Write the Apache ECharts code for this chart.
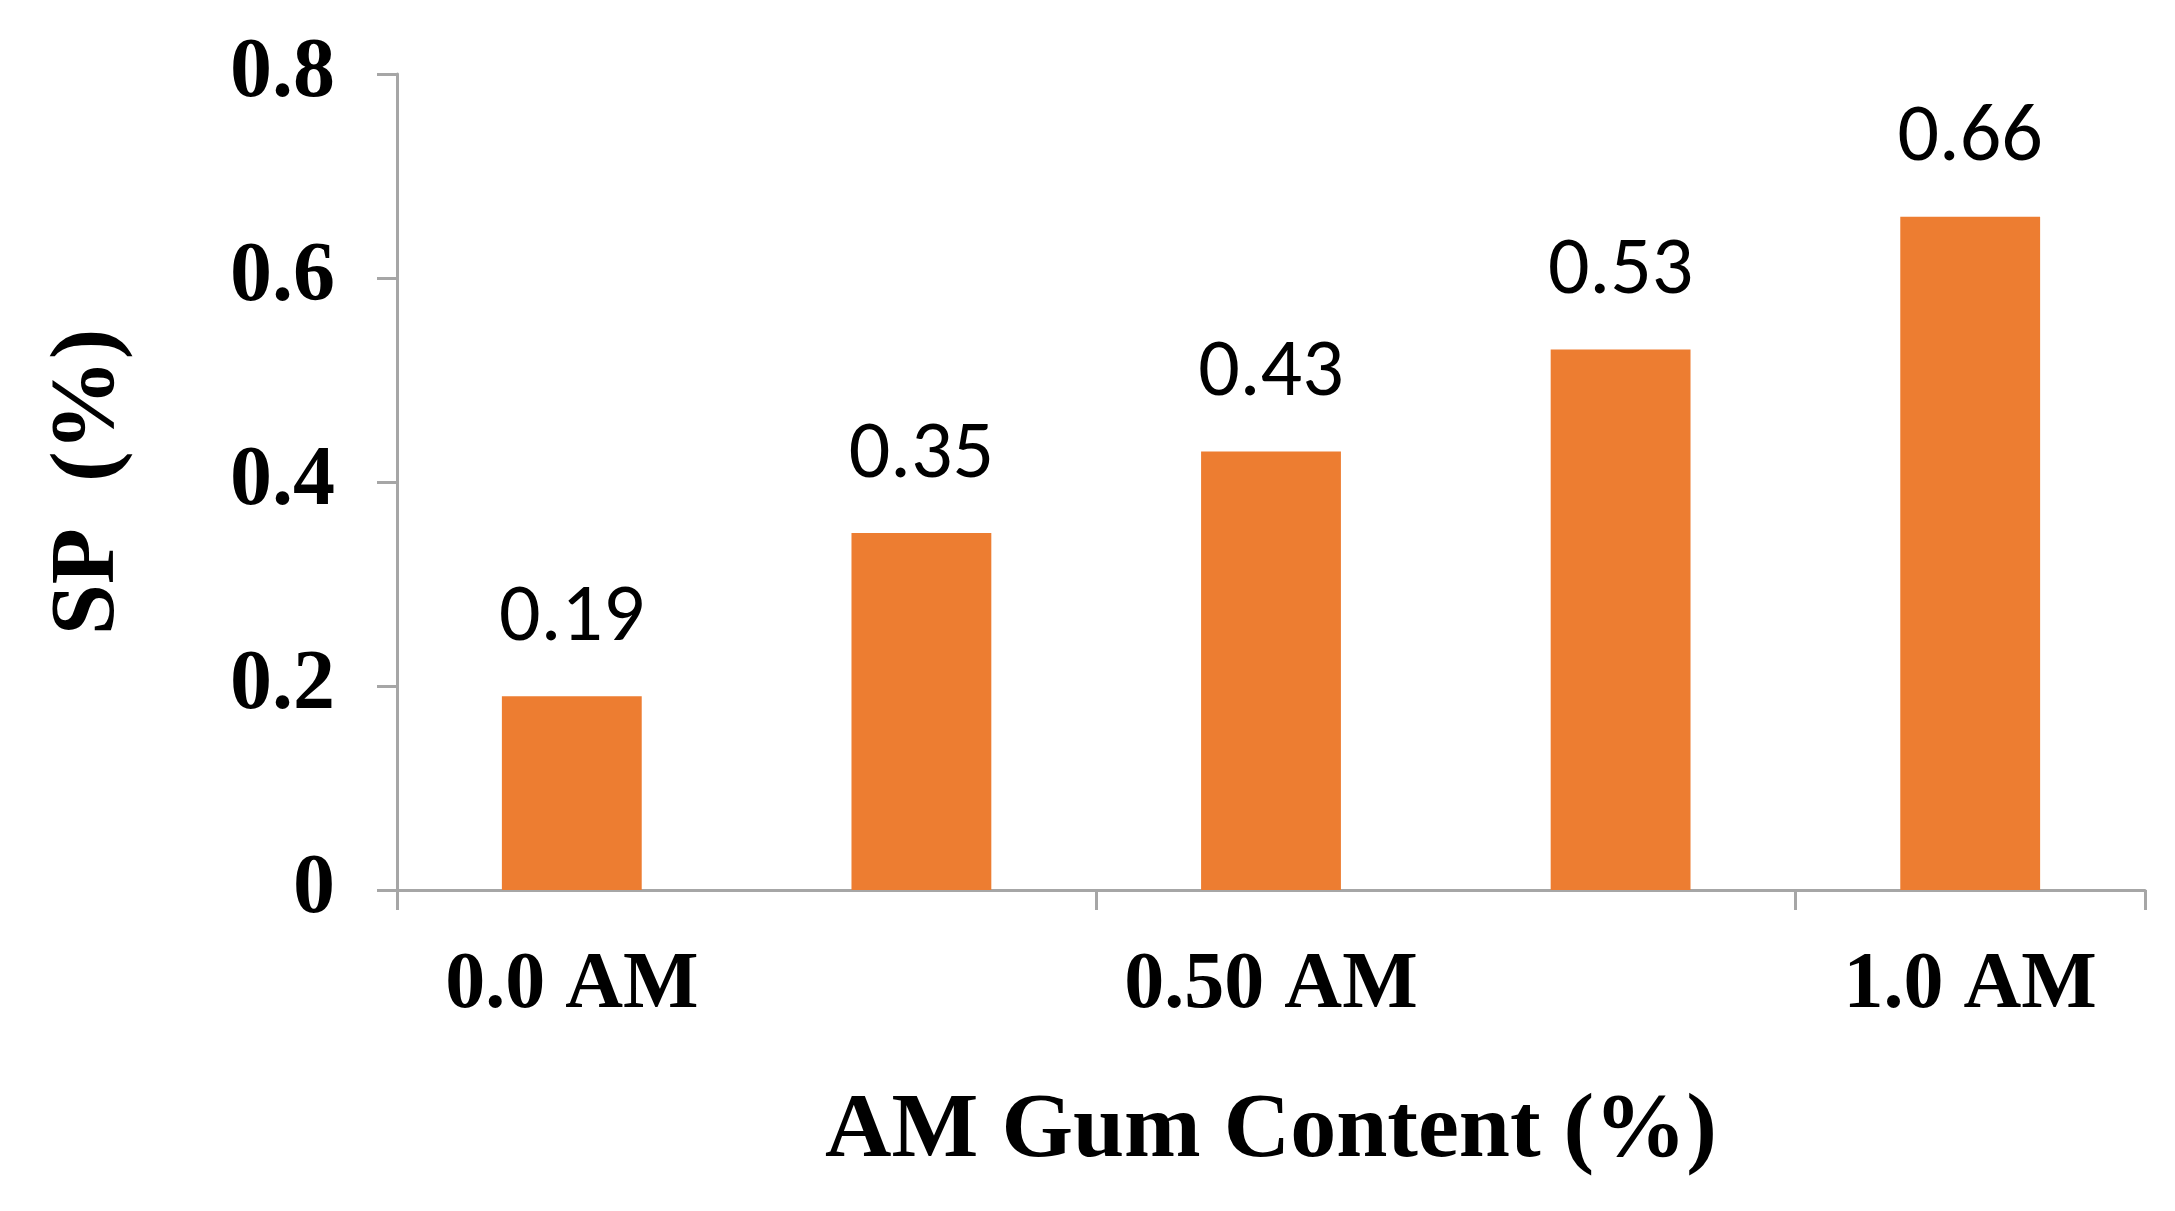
<!DOCTYPE html>
<html><head><meta charset="utf-8">
<script src="https://cdn.jsdelivr.net/npm/echarts@6/dist/echarts.min.js"></script>
<style>html,body{margin:0;padding:0;background:#fff}#c{width:2175px;height:1211px}</style>
</head><body><div id="c"></div>
<script>
const categories = ['0.0 AM','0.25 AM','0.50 AM','0.75 AM','1.0 AM'];
const spValues = [0.19,0.35,0.43,0.53,0.66];
const yTicks = [0,0.2,0.4,0.6,0.8];
const serif = '"Liberation Serif","Times New Roman",serif';
const chart = echarts.init(document.getElementById('c'));
chart.setOption({
  animation:false,
  grid:{left:397,right:30,top:74,bottom:321},
  xAxis:{type:'category',data:categories,
    name:'AM Gum Content (%)',nameLocation:'middle',nameGap:196,
    nameTextStyle:{fontFamily:serif,fontWeight:'bold',fontSize:92,color:'#000'},
    axisLine:{lineStyle:{color:'#A6A6A6',width:3}},
    axisTick:{show:true,length:20,lineStyle:{color:'#A6A6A6',width:3}},
    axisLabel:{margin:56,fontFamily:serif,fontWeight:'bold',fontSize:80,color:'#000'}},
  yAxis:{type:'value',min:0,max:0.8,interval:0.2,
    name:'SP  (%)',nameLocation:'middle',nameGap:262,
    nameTextStyle:{fontFamily:serif,fontWeight:'bold',fontSize:92,color:'#000'},
    axisLine:{show:true,lineStyle:{color:'#A6A6A6',width:3}},
    axisTick:{show:true,length:20,lineStyle:{color:'#A6A6A6',width:3}},
    splitLine:{show:false},
    axisLabel:{margin:62,fontFamily:serif,fontWeight:'bold',fontSize:84,color:'#000',
      formatter:v=>yTicks.includes(+v.toFixed(1))?String(+v.toFixed(1)):''}},
  series:[{type:'bar',data:spValues,barWidth:'40%',itemStyle:{color:'#ED7D31'},
    label:{show:true,position:'top',distance:36,fontFamily:'Carlito,"Open Sans",sans-serif',fontSize:82,color:'#000',
      formatter:p=>p.value.toFixed(2)}}]
});
</script></body></html>
